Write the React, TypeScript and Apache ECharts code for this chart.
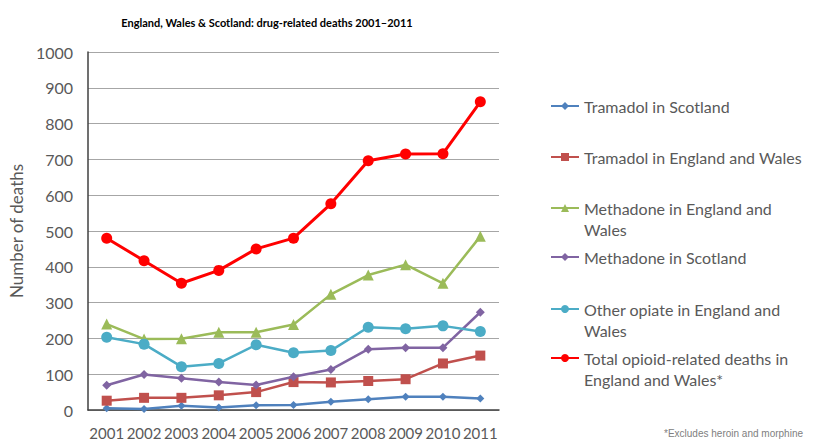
import React, { useEffect, useRef } from "react";
import * as echarts from "echarts";

const years = ["2001", "2002", "2003", "2004", "2005", "2006", "2007", "2008", "2009", "2010", "2011"];
const tramadolScotland = [5, 3, 12, 7, 13, 14, 23, 30, 37, 37, 32];
const tramadolEW = [26, 34, 34, 41, 50, 78, 77, 81, 86, 130, 152];
const methadoneEW = [240, 198, 199, 217, 217, 239, 323, 377, 406, 354, 485];
const methadoneScotland = [69, 99, 89, 78, 70, 93, 113, 170, 174, 174, 273];
const otherOpiateEW = [203, 184, 121, 130, 182, 160, 166, 231, 227, 235, 219];
const totalOpioidEW = [480, 417, 354, 390, 450, 480, 576, 696, 715, 716, 861];

const seriesNames = [
  "Tramadol in Scotland",
  "Tramadol in England and Wales",
  "Methadone in England and Wales",
  "Methadone in Scotland",
  "Other opiate in England and Wales",
  "Total opioid-related deaths in England and Wales*",
];
const legendLabels = [
  "Tramadol in Scotland",
  "Tramadol in England and Wales",
  "Methadone in England and\nWales",
  "Methadone in Scotland",
  "Other opiate in England and\nWales",
  "Total opioid-related deaths in\nEngland and Wales*",
];

const FONT = "Lato";

export default function App() {
  const ref = useRef<HTMLDivElement>(null);
  useEffect(() => {
    document.body.style.margin = "0";
    if (!ref.current) return;
    const chart = echarts.init(ref.current, undefined, { renderer: "svg" });
    const colors = ["#4F81BD", "#C0504D", "#9BBB59", "#8064A2", "#4BACC6", "#FF0000"];
    const symbols = ["diamond", "rect", "triangle", "diamond", "circle", "circle"];
    const sizes = [8, 10, 11, 9, 11, 11];
    const data = [tramadolScotland, tramadolEW, methadoneEW, methadoneScotland, otherOpiateEW, totalOpioidEW];
    const legendCenters = [106, 157, 208, 257, 309, 358];
    const LH = 21;
    const legends = seriesNames.map((name, i) => {
      const wrapped = legendLabels[i].includes("\n");
      const top = wrapped ? legendCenters[i] - (LH * 3) / 2 : legendCenters[i] - LH / 2;
      return {
        show: true,
        orient: "vertical",
        left: 550,
        top,
        padding: 0,
        itemWidth: 28,
        itemHeight: 10,
        data: [name],
        formatter: () => (wrapped ? "\n" + legendLabels[i] : legendLabels[i]),
        textStyle: {
          fontFamily: FONT,
          fontSize: 16,
          color: "#595959",
          lineHeight: LH,
        },
      };
    });
    chart.setOption({
      animation: false,
      title: {
        text: "England, Wales & Scotland: drug-related deaths 2001\u20132011",
        left: 262,
        textAlign: "center",
        top: 12,
        textStyle: { fontFamily: FONT, fontSize: 11, fontWeight: "bold", color: "#000" },
      },
      graphic: [
        {
          type: "text",
          right: 14,
          top: 428,
          style: { text: "*Excludes heroin and morphine", font: "10px 'Liberation Sans'", fill: "#808080" },
        },
      ],
      legend: legends,
      grid: { left: 83, right: 318, top: 52, bottom: 31 },
      xAxis: {
        type: "category",
        data: years,
        boundaryGap: true,
        axisLine: { lineStyle: { color: "#404040", width: 1.5 } },
        axisTick: { show: false },
        axisLabel: { fontFamily: FONT, fontSize: 15, color: "#595959", margin: 15, interval: 0 },
      },
      yAxis: {
        type: "value",
        min: 0,
        max: 1000,
        interval: 100,
        name: "Number of deaths",
        nameLocation: "middle",
        nameGap: 57,
        nameTextStyle: { fontFamily: FONT, fontSize: 17, color: "#595959" },
        axisLine: { show: true, lineStyle: { color: "#404040", width: 1.5 } },
        axisTick: { show: false },
        axisLabel: { fontFamily: FONT, fontSize: 16, color: "#595959", margin: 15, formatter: (v: number) => String(v) },
        splitLine: { lineStyle: { color: "#A6A6A6", width: 1 } },
      },
      series: seriesNames.map((name, i) => ({
        name,
        type: "line",
        data: data[i],
        symbol: symbols[i],
        symbolSize: sizes[i],
        showAllSymbol: true,
        itemStyle: { color: colors[i] },
        lineStyle: { color: colors[i], width: i === 5 ? 3 : 2.5 },
        z: 2 + i,
      })),
    });
    return () => chart.dispose();
  }, []);
  return <div ref={ref} style={{ width: 817, height: 441 }} />;
}
